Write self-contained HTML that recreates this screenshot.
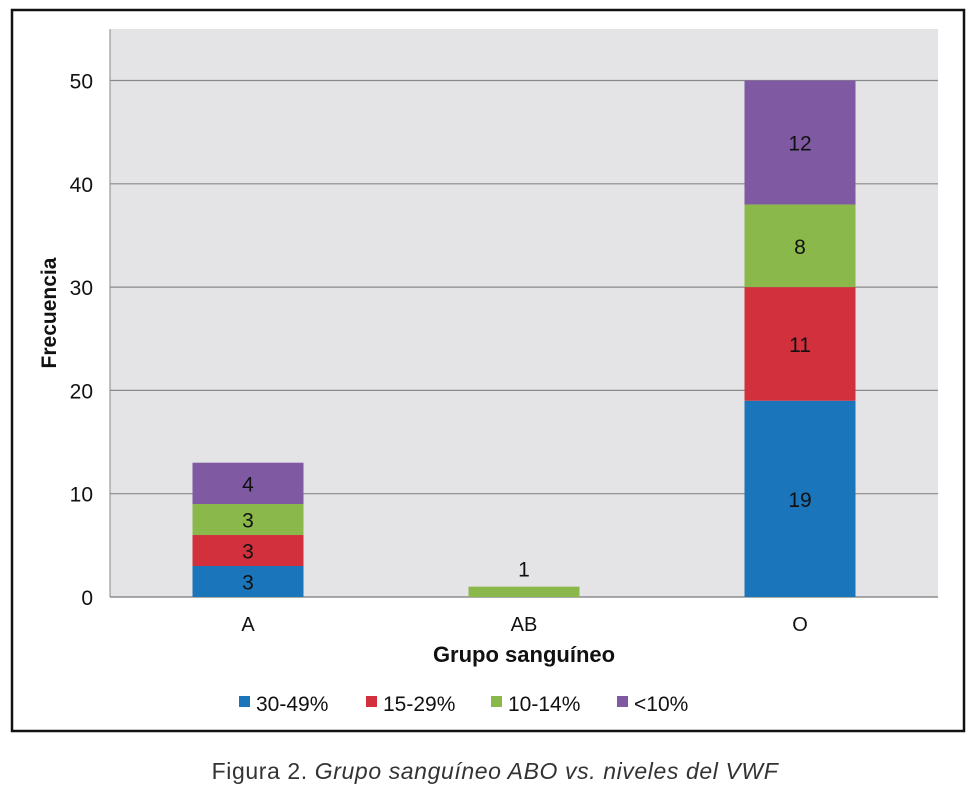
<!DOCTYPE html>
<html><head><meta charset="utf-8"><style>
body{margin:0;background:#fff;width:977px;height:790px;overflow:hidden;font-family:"Liberation Sans",Arial,sans-serif}
</style></head><body>
<svg id="chart" width="977" height="790" xmlns="http://www.w3.org/2000/svg" font-family="Liberation Sans, Arial, sans-serif">
<rect x="12" y="10" width="952" height="721" fill="#fff" stroke="#111" stroke-width="2.5"/>
<rect x="110" y="29" width="828" height="568" fill="#e4e3e5"/>
<g id="grid"></g><g id="bars"></g>
<text x="56" y="313" transform="rotate(-90 56 313)" text-anchor="middle" font-size="21" font-weight="bold" fill="#111">Frecuencia</text>
<text x="524" y="662" text-anchor="middle" font-size="22" font-weight="bold" fill="#111">Grupo sanguíneo</text>
<g id="legend"></g>
<text x="495" y="779" text-anchor="middle" font-size="23" fill="#333" letter-spacing="0.6">Figura 2. <tspan font-style="italic">Grupo sanguíneo ABO vs. niveles del VWF</tspan></text>
</svg>
<script>
const categories=["A","AB","O"];
const seriesNames=["30-49%","15-29%","10-14%","<10%"];
const s3049=[3,0,19];
const s1529=[3,0,11];
const s1014=[3,1,8];
const sLt10=[4,0,12];
const yTicks=[0,10,20,30,40,50];
const colors=["#1b75bb","#d1303c","#8bb84a","#7f59a2"];
const NS="http://www.w3.org/2000/svg";
const L=110,R=938,Y0=597,PX=10.33;
const y=v=>Y0-v*PX;
const xc=i=>L+(R-L)/3*(i+0.5);
function mk(t,a,p){const e=document.createElementNS(NS,t);for(const k in a)e.setAttribute(k,a[k]);p.appendChild(e);return e;}
const grid=document.getElementById('grid');
mk('line',{x1:L,y1:29,x2:L,y2:Y0,stroke:'#888','stroke-width':1},grid);
yTicks.forEach(v=>{
 const l=mk('line',{x1:L,y1:y(v),x2:R,y2:y(v),stroke:v===0?'#777':'#8a8a8a','stroke-width':1.2},grid);
 
 
 const t=mk('text',{x:93,y:y(v)+8,'text-anchor':'end','font-size':21,fill:'#111'},grid);
 t.textContent=v;
 
 
});
const bars=document.getElementById('bars');
const series=[s3049,s1529,s1014,sLt10];
categories.forEach((c,i)=>{
 let base=0;const cx=xc(i);
 series.forEach((s,j)=>{
  const v=s[i];if(!v)return;
  const r=mk('rect',{x:cx-55.5,y:y(base+v),width:111,height:v*PX,fill:colors[j]},bars);
  
  
  const ly=(v<2)?(y(base+v)-10):(y(base+v/2)+8);
  const t=mk('text',{x:cx,y:ly,'text-anchor':'middle','font-size':21,fill:'#111'},bars);
  t.textContent=v;
  
  
  base+=v;
 });
 const t=mk('text',{x:cx,y:631,'text-anchor':'middle','font-size':20,fill:'#111'},bars);
 t.textContent=c;
 
 
});
const lg=document.getElementById('legend');
const lx=[239,366,491,617];
seriesNames.forEach((n,j)=>{
 const g=mk('g',{},lg);
 
 
 mk('rect',{x:lx[j],y:696,width:11,height:11,fill:colors[j]},g);
 const t=mk('text',{x:lx[j]+17,y:711,'font-size':21,fill:'#111'},g);
 t.textContent=n;
});
</script>
</body></html>
